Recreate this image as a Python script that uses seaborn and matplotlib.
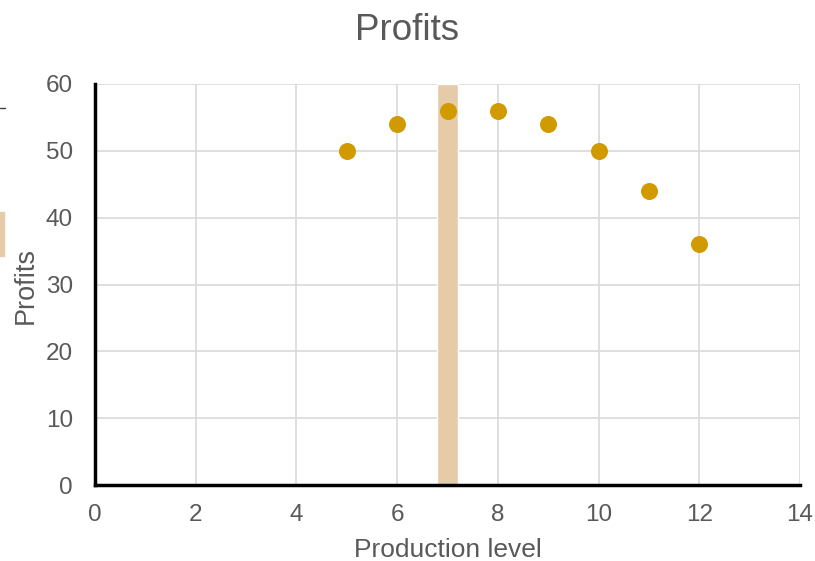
import matplotlib
matplotlib.use("Agg")
import matplotlib.pyplot as plt
from matplotlib.lines import Line2D
from matplotlib.patches import Rectangle
import seaborn as sns
import pandas as pd

# Production level vs. profit
production = [5, 6, 7, 8, 9, 10, 11, 12]
profits = [50, 54, 56, 56, 54, 50, 44, 36]

# Highlighted optimum level
optimum_level = [7]
optimum_height = [60]

x_ticks = [0, 2, 4, 6, 8, 10, 12, 14]
y_ticks = [0, 10, 20, 30, 40, 50, 60]

sns.set_theme(style="white")
plt.rcParams["font.family"] = ["Liberation Sans", "DejaVu Sans"]

TEXT = "#595959"
df = pd.DataFrame({"Production level": production, "Profits": profits})

W, H = 815, 561
fig = plt.figure(figsize=(W / 100, H / 100), dpi=100)
ax = fig.add_axes([95 / W, 1 - 485 / H, 705 / W, 401 / H])

ax.bar(optimum_level, optimum_height, width=0.4, color="#E5CBA8", zorder=1)
sns.scatterplot(data=df, x="Production level", y="Profits", ax=ax,
                color="#D09A00", s=150, linewidth=0, zorder=3)

ax.set_xlim(0, 14)
ax.set_ylim(0, 60)
ax.set_xticks(x_ticks)
ax.set_yticks(y_ticks)
ax.grid(True, color="#D9D9D9", linewidth=1.2, zorder=0)
ax.set_axisbelow(True)

for side in ["top", "right"]:
    ax.spines[side].set_visible(False)
for side in ["left", "bottom"]:
    ax.spines[side].set_color("black")
    ax.spines[side].set_linewidth(2.5)
    ax.spines[side].set_zorder(4)

ax.tick_params(axis="both", colors=TEXT, labelsize=17.5, length=0)
ax.tick_params(axis="x", pad=14)
ax.tick_params(axis="y", pad=16)

ax.set_xlabel("Production level", fontsize=19, color=TEXT, va="baseline")
ax.xaxis.set_label_coords(0.5, -(557 - 485) / 401)
ax.set_ylabel("Profits", fontsize=19.5, color=TEXT, va="center")
ax.yaxis.set_label_coords(-(95 - 26) / 705, (485 - 286) / 401)

fig.text(0.5, 1 - 40 / H, "Profits", fontsize=26.5, color=TEXT,
         ha="center", va="baseline")

# Clipped legend fragments at the left edge
fig.add_artist(Line2D([0, 5 / W], [1 - 108 / H, 1 - 108 / H],
                      color="#404040", linewidth=1, transform=fig.transFigure))
fig.add_artist(Rectangle((0, 1 - 256 / H), 4 / W, 44 / H,
                         color="#E5CBA8", transform=fig.transFigure))

fig.savefig("out.png", dpi=100)
